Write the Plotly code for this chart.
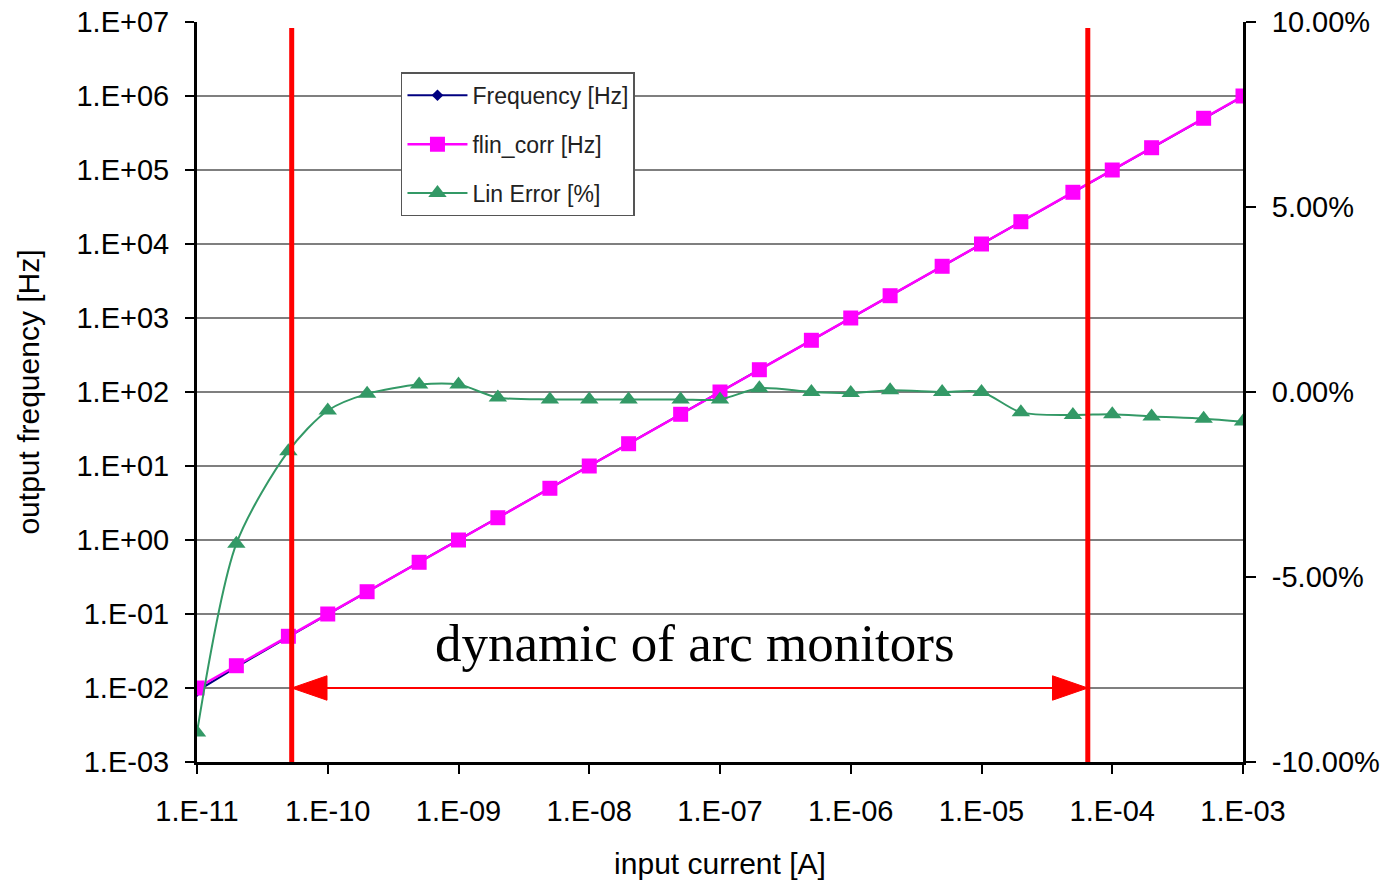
import plotly.graph_objects as go
import numpy as np

# ---------------- data ----------------
current_A = [1e-11, 2e-11, 5e-11, 1e-10, 2e-10, 5e-10, 1e-9, 2e-9, 5e-9,
             1e-8, 2e-8, 5e-8, 1e-7, 2e-7, 5e-7, 1e-6, 2e-6, 5e-6,
             1e-5, 2e-5, 5e-5, 1e-4, 2e-4, 5e-4, 1e-3]
flin_corr_hz = [0.01, 0.02, 0.05, 0.1, 0.2, 0.5, 1, 2, 5,
                10, 20, 50, 100, 200, 500, 1000, 2000, 5000,
                1e4, 2e4, 5e4, 1e5, 2e5, 5e5, 1e6]
frequency_hz = [0.0091, 0.0192, 0.0492, 0.0995, 0.2, 0.501, 1.002, 1.997, 4.99,
                9.98, 19.96, 49.9, 99.8, 200.2, 500, 999.6, 2001, 5000,
                1e4, 1.989e4, 4.97e4, 9.94e4, 1.986e5, 4.96e5, 9.92e5]
lin_error_pct = [-9.2, -4.1, -1.6, -0.5, -0.05, 0.2, 0.2, -0.15, -0.2,
                 -0.2, -0.2, -0.2, -0.2, 0.1, 0.0, -0.03, 0.05, 0.0,
                 0.0, -0.55, -0.62, -0.6, -0.66, -0.72, -0.8]

x_tick_vals = [1e-11, 1e-10, 1e-9, 1e-8, 1e-7, 1e-6, 1e-5, 1e-4, 1e-3]
x_tick_text = ["1.E-11", "1.E-10", "1.E-09", "1.E-08", "1.E-07", "1.E-06",
               "1.E-05", "1.E-04", "1.E-03"]
y_tick_vals = [1e-3, 1e-2, 1e-1, 1e0, 1e1, 1e2, 1e3, 1e4, 1e5, 1e6, 1e7]
y_tick_text = ["1.E-03", "1.E-02", "1.E-01", "1.E+00", "1.E+01", "1.E+02",
               "1.E+03", "1.E+04", "1.E+05", "1.E+06", "1.E+07"]
y2_tick_vals = [-10, -5, 0, 5, 10]
y2_tick_text = ["-10.00%", "-5.00%", "0.00%", "5.00%", "10.00%"]

# measurement range of the arc monitors (vertical red markers)
dyn_range_A = [5.3e-11, 6.5e-5]
dyn_line_pct = [-10.1, 9.84]
arrow_level_hz = 0.01

FONT = "Liberation Sans, Arial, sans-serif"
RED = "#FF0000"

fig = go.Figure()

fig.add_trace(go.Scatter(
    x=current_A, y=frequency_hz, name="Frequency [Hz]", mode="lines+markers",
    line=dict(color="#000080", width=2),
    marker=dict(symbol="diamond", size=9, color="#000080"),
    legendgroup="a", hoverinfo="skip"))

fig.add_trace(go.Scatter(
    x=current_A, y=flin_corr_hz, name="flin_corr [Hz]", mode="lines+markers",
    line=dict(color="#FF00FF", width=2.5),
    marker=dict(symbol="square", size=15, color="#FF00FF"),
    legendgroup="b", hoverinfo="skip"))

# double-headed arrow (shaft + two heads), on the left (frequency) axis
lo, hi = np.log10(dyn_range_A[0]), np.log10(dyn_range_A[1])
head_len = 0.27    # decades along x
head_half = 0.165  # decades along y
ly = np.log10(arrow_level_hz)
fig.add_trace(go.Scatter(
    x=[dyn_range_A[0], dyn_range_A[1]], y=[arrow_level_hz, arrow_level_hz],
    mode="lines", line=dict(color=RED, width=2), showlegend=False, hoverinfo="skip"))
for tip, base in [(lo, lo + head_len), (hi, hi - head_len)]:
    fig.add_trace(go.Scatter(
        x=[10 ** tip, 10 ** base, 10 ** base, 10 ** tip],
        y=[10 ** ly, 10 ** (ly + head_half), 10 ** (ly - head_half), 10 ** ly],
        mode="lines", fill="toself", fillcolor=RED, line=dict(color=RED, width=1),
        showlegend=False, hoverinfo="skip"))

fig.add_trace(go.Scatter(
    x=current_A, y=lin_error_pct, name="Lin Error [%]", mode="lines+markers",
    yaxis="y2", line=dict(color="#339966", width=2, shape="spline", smoothing=0.8),
    marker=dict(symbol="triangle-up", size=16, color="#339966"),
    legendgroup="c", hoverinfo="skip"))

for xv in dyn_range_A:
    fig.add_trace(go.Scatter(
        x=[xv, xv], y=dyn_line_pct, yaxis="y2", mode="lines",
        line=dict(color=RED, width=5), showlegend=False,
        cliponaxis=False, hoverinfo="skip"))

fig.add_annotation(
    x=-7.19, y=-1.39, xref="x", yref="y",
    text="dynamic of arc monitors", showarrow=False,
    font=dict(family="Liberation Serif, Times New Roman, serif", size=53, color="black"))

fig.update_layout(
    width=1388, height=885,
    margin=dict(l=197, r=145, t=22, b=123, autoexpand=False),
    paper_bgcolor="white", plot_bgcolor="white",
    font=dict(family=FONT, color="black", size=28),
    showlegend=True,
    legend=dict(x=0.195, y=0.932, xanchor="left", yanchor="top",
                bgcolor="white", bordercolor="#555555", borderwidth=1.5,
                font=dict(family=FONT, size=23, color="#222222"),
                tracegroupgap=16, traceorder="grouped", itemwidth=60),
    xaxis=dict(type="log", range=[-11, -3], tickvals=x_tick_vals, ticktext=x_tick_text,
               showgrid=False, zeroline=False, showline=True, linecolor="black", linewidth=3,
               ticks="outside", ticklen=9, tickwidth=2, tickcolor="black",
               tickfont=dict(size=29), ticklabelstandoff=12, automargin=False,
               title=dict(text="input current [A]", font=dict(size=30), standoff=28)),
    yaxis=dict(type="log", range=[-3, 7], tickvals=y_tick_vals, ticktext=y_tick_text,
               showgrid=True, gridcolor="#7f7f7f", gridwidth=2, zeroline=False,
               showline=True, linecolor="black", linewidth=3,
               ticks="outside", ticklen=9, tickwidth=2, tickcolor="black",
               tickfont=dict(size=29), ticklabelstandoff=10, automargin=False,
               title=dict(text="output frequency [Hz]", font=dict(size=30), standoff=28)),
    yaxis2=dict(overlaying="y", side="right", range=[-10, 10], tickvals=y2_tick_vals,
                ticktext=y2_tick_text, showgrid=False, zeroline=False,
                showline=True, linecolor="black", linewidth=3,
                ticks="outside", ticklen=10, tickwidth=2, tickcolor="black",
                tickfont=dict(size=29), ticklabelstandoff=10, automargin=False),
)

fig.write_html("out.html")
